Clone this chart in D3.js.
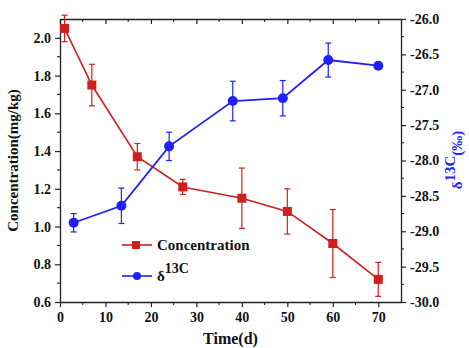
<!DOCTYPE html>
<html>
<head>
<meta charset="utf-8">
<script src="https://cdn.jsdelivr.net/npm/d3@7"></script>
<style>
  body { margin: 0; background: #fff; }
  #chart, #chart text { font-family: 'Liberation Serif', serif !important; font-weight: bold; }
</style>
</head>
<body>
<svg id="chart" width="469" height="348"></svg>
<script>
// concentration series (left axis)
const concDays = [1, 7, 17, 27, 40, 50, 60, 70];
const concValues = [2.05, 1.75, 1.37, 1.21, 1.15, 1.08, 0.91, 0.72];
const concErrors = [0.07, 0.11, 0.07, 0.04, 0.16, 0.12, 0.18, 0.09];
// delta 13C series (right axis)
const deltaDays = [3, 13.5, 24, 38, 49, 59, 70];
const deltaValues = [-28.88, -28.64, -27.80, -27.16, -27.12, -26.58, -26.66];
const deltaErrors = [0.13, 0.25, 0.2, 0.28, 0.25, 0.24, 0.04];
const xTicks = [0, 10, 20, 30, 40, 50, 60, 70];
const leftTicks = [0.6, 0.8, 1.0, 1.2, 1.4, 1.6, 1.8, 2.0];
const rightTicks = [-30, -29.5, -29, -28.5, -28, -27.5, -27, -26.5, -26];

const red = '#d01f1f', blue = '#1f1fff';
const margin = { top: 19, right: 68, bottom: 46, left: 60 };
const W = 469, H = 348;
const svg = d3.select('#chart');

const x = d3.scaleLinear().domain([0, 75]).range([margin.left, W - margin.right]);
const yL = d3.scaleLinear().domain([0.6, 2.1]).range([H - margin.bottom, margin.top]);
const yR = d3.scaleLinear().domain([-30, -26]).range([H - margin.bottom, margin.top]);

const styleAxis = (g, size) => {
  g.attr('font-family', null);
  g.selectAll('path').attr('stroke', '#222').attr('stroke-width', 1.3);
  g.selectAll('line').attr('stroke', '#222').attr('stroke-width', 1.2);
  g.selectAll('text').attr('font-size', size).attr('fill', '#111');
};

// minor ticks
const minor = (g, scale, vals, orient, len) => {
  g.selectAll(null).data(vals).enter().append('line')
    .attr('stroke', '#222').attr('stroke-width', 1.1)
    .each(function(d) {
      const s = d3.select(this), p = scale(d);
      if (orient === 'h') s.attr('x1', p).attr('x2', p).attr('y1', 0).attr('y2', len);
      else s.attr('y1', p).attr('y2', p).attr('x1', 0).attr('x2', len);
    });
};

// bottom axis
const gx = svg.append('g').attr('transform', `translate(0,${H - margin.bottom})`)
  .call(d3.axisBottom(x).tickValues(xTicks).tickFormat(d3.format('d')).tickSize(5).tickPadding(5).tickSizeOuter(0));
styleAxis(gx, 14);
minor(gx, x, d3.range(5, 75, 10), 'h', 3);

// top axis (mirror, inward ticks)
const gt = svg.append('g').attr('transform', `translate(0,${margin.top})`)
  .call(d3.axisTop(x).tickValues(xTicks).tickFormat('').tickSize(-5).tickSizeOuter(0));
styleAxis(gt, 0);
minor(gt, x, d3.range(5, 75, 10), 'h', 3);

// left axis
const gl = svg.append('g').attr('transform', `translate(${margin.left},0)`)
  .call(d3.axisLeft(yL).tickValues(leftTicks).tickFormat(d3.format('.1f')).tickSize(5).tickPadding(4).tickSizeOuter(0));
styleAxis(gl, 14);
minor(gl, yL, d3.range(0.7, 2.1, 0.2), 'v', -3);

// right axis
const gr = svg.append('g').attr('transform', `translate(${W - margin.right},0)`)
  .call(d3.axisRight(yR).tickValues(rightTicks).tickFormat(d3.format('.1f')).tickSize(5).tickPadding(4).tickSizeOuter(0));
styleAxis(gr, 14);
minor(gr, yR, d3.range(-29.75, -26, 0.5), 'v', 3);
gr.selectAll('text').text(d => d3.format('.1f')(d).replace('−', '-'));

const concData = concDays.map((d, i) => ({ x: d, y: concValues[i], e: concErrors[i] }));
const deltaData = deltaDays.map((d, i) => ({ x: d, y: deltaValues[i], e: deltaErrors[i] }));

const drawErr = (data, yScale, color) => {
  const g = svg.append('g').attr('stroke', color).attr('stroke-width', 1.2);
  data.forEach(d => {
    const x0 = x(d.x), y1 = yScale(d.y - d.e), y2 = yScale(d.y + d.e);
    g.append('line').attr('x1', x0).attr('x2', x0).attr('y1', y1).attr('y2', y2);
    g.append('line').attr('x1', x0 - 3).attr('x2', x0 + 3).attr('y1', y1).attr('y2', y1);
    g.append('line').attr('x1', x0 - 3).attr('x2', x0 + 3).attr('y1', y2).attr('y2', y2);
  });
};

svg.append('path').datum(concData)
  .attr('fill', 'none').attr('stroke', red).attr('stroke-width', 1.6)
  .attr('d', d3.line().x(d => x(d.x)).y(d => yL(d.y)));
drawErr(concData, yL, red);
svg.selectAll('rect.conc').data(concData).enter().append('rect')
  .attr('class', 'conc')
  .attr('x', d => x(d.x) - 4.5).attr('y', d => yL(d.y) - 4.5)
  .attr('width', 9).attr('height', 9).attr('fill', red);

svg.append('path').datum(deltaData)
  .attr('fill', 'none').attr('stroke', blue).attr('stroke-width', 1.8)
  .attr('d', d3.line().x(d => x(d.x)).y(d => yR(d.y)));
drawErr(deltaData, yR, blue);
svg.selectAll('circle.delta').data(deltaData).enter().append('circle')
  .attr('class', 'delta')
  .attr('cx', d => x(d.x)).attr('cy', d => yR(d.y)).attr('r', 5).attr('fill', blue);

// legend
const lg = svg.append('g');
lg.append('line').attr('x1', 122).attr('x2', 152).attr('y1', 245).attr('y2', 245).attr('stroke', red).attr('stroke-width', 1.6);
lg.append('rect').attr('x', 132).attr('y', 241).attr('width', 8).attr('height', 8).attr('fill', red);
lg.append('text').attr('x', 157).attr('y', 250).attr('font-size', 15).attr('fill', '#111').text('Concentration');
lg.append('line').attr('x1', 122).attr('x2', 152).attr('y1', 276).attr('y2', 276).attr('stroke', blue).attr('stroke-width', 1.6);
lg.append('circle').attr('cx', 137).attr('cy', 276).attr('r', 4).attr('fill', blue);
const dt = lg.append('text').attr('x', 157).attr('y', 281).attr('font-size', 15).attr('fill', '#111');
dt.append('tspan').text('δ');
dt.append('tspan').attr('dy', -8).attr('font-size', 14).text('13C');

// axis titles
svg.append('text')
  .attr('transform', `translate(18,${(margin.top + H - margin.bottom) / 2}) rotate(-90)`)
  .attr('text-anchor', 'middle').attr('font-size', 15).attr('fill', '#111')
  .text('Concentration(mg/kg)');

svg.append('text')
  .attr('x', x(37.5)).attr('y', 344)
  .attr('text-anchor', 'middle').attr('font-size', 16).attr('fill', '#111')
  .text('Time(d)');

const rt = svg.append('text')
  .attr('transform', `translate(462,160) rotate(-90)`)
  .attr('text-anchor', 'middle').attr('font-size', 15).attr('fill', blue);
rt.append('tspan').text('δ');
rt.append('tspan').attr('dy', -7).text('13');
rt.append('tspan').text('C');
rt.append('tspan').attr('dy', 7).text('(‰)');
</script>
</body>
</html>
